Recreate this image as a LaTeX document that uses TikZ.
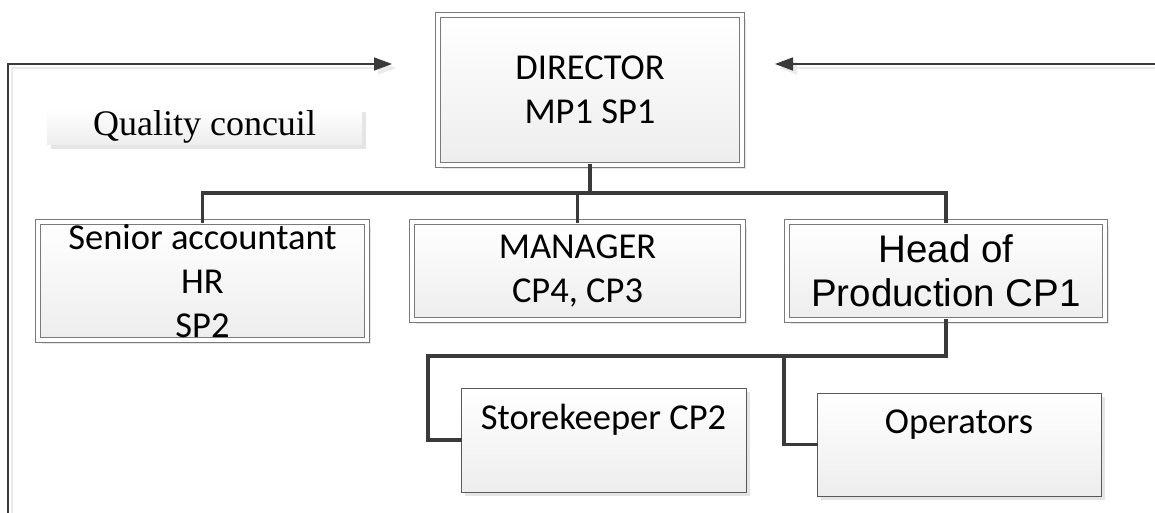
\documentclass[tikz,border=0pt]{standalone}
\usepackage{fontspec}
\newfontfamily\calfont{Carlito}
\newfontfamily\arifont{Liberation Sans}
\newfontfamily\timfont{Liberation Serif}
\usetikzlibrary{arrows.meta,shadows}
\definecolor{linec}{HTML}{3A3A3A}
\definecolor{boxline}{HTML}{7A7A7A}
\tikzset{
  shad/.style={drop shadow={shadow xshift=4pt, shadow yshift=-4pt, fill=black!10, opacity=1}},
  grad/.style={top color=white, bottom color=black!7},
  dblbox/.style={shad, grad, draw=boxline, line width=0.9pt, double=white, double distance=4.5pt,
    inner sep=0pt, align=center},
  sglbox/.style={shad, grad, draw=black!65, line width=0.9pt, inner sep=0pt, align=center},
  calt/.style={font=\calfont\fontsize{36.5}{44}\selectfont},
  arit/.style={font=\arifont\fontsize{38.5}{44}\selectfont},
  conn/.style={draw=linec, line width=3.2pt, line cap=rect},
  arr/.style={draw=linec, line width=1.5pt, -{Triangle[length=18pt,width=13pt]},
    preaction={draw=black!8, line width=1.5pt, transform canvas={xshift=4pt,yshift=-4pt}}},
}
\begin{document}
\begin{tikzpicture}[x=1pt,y=-1pt]
\useasboundingbox (0,0) rectangle (1155,513);
% arrows
\coordinate (lbot) at (8,515);
\coordinate (ltip) at (392,64);
\coordinate (rstart) at (1157,64);
\coordinate (rtip) at (775,64);
\draw[arr] (lbot) |- (ltip);
\draw[arr] (rstart) -- (rtip);
% nodes
\node[dblbox, calt, minimum width=304pt, minimum height=150pt] (dir) at (590,90) {DIRECTOR\\MP1 SP1};
\node[shad, grad, inner sep=0pt, minimum width=315pt, minimum height=37pt,
      font=\timfont\fontsize{36}{40}\selectfont] (qc) at (204.5,126.5) {Quality concuil};
\node[dblbox, calt, minimum width=329pt, minimum height=118pt] (senior) at (202.5,281) {Senior accountant\\HR\\SP2};
\node[dblbox, calt, minimum width=331pt, minimum height=98pt] (mgr) at (577.5,271) {MANAGER\\CP4, CP3};
\node[dblbox, arit, minimum width=318pt, minimum height=98pt] (head) at (946,271) {Head of\\Production CP1};
\node[sglbox, calt, minimum width=285pt, minimum height=104pt, text height=23pt, text depth=45pt] (store) at (603.5,440) {Storekeeper CP2};
\node[sglbox, calt, minimum width=284pt, minimum height=103pt, text height=23pt, text depth=46pt] (ops) at (959,444.5) {Operators};
% connectors
\coordinate (busR) at (946,193);
\coordinate (jL) at (428,356);
\coordinate (jM) at (784,356);
\draw[conn] (senior.north) |- (busR) -- (head.north);
\draw[conn] (dir.south) -- (dir.south |- busR);
\draw[conn] (mgr.north) -- (mgr.north |- busR);
\draw[conn] (head.south) |- (jL) |- (store.west);
\draw[conn] (jM) |- (ops.west);
\end{tikzpicture}
\end{document}
